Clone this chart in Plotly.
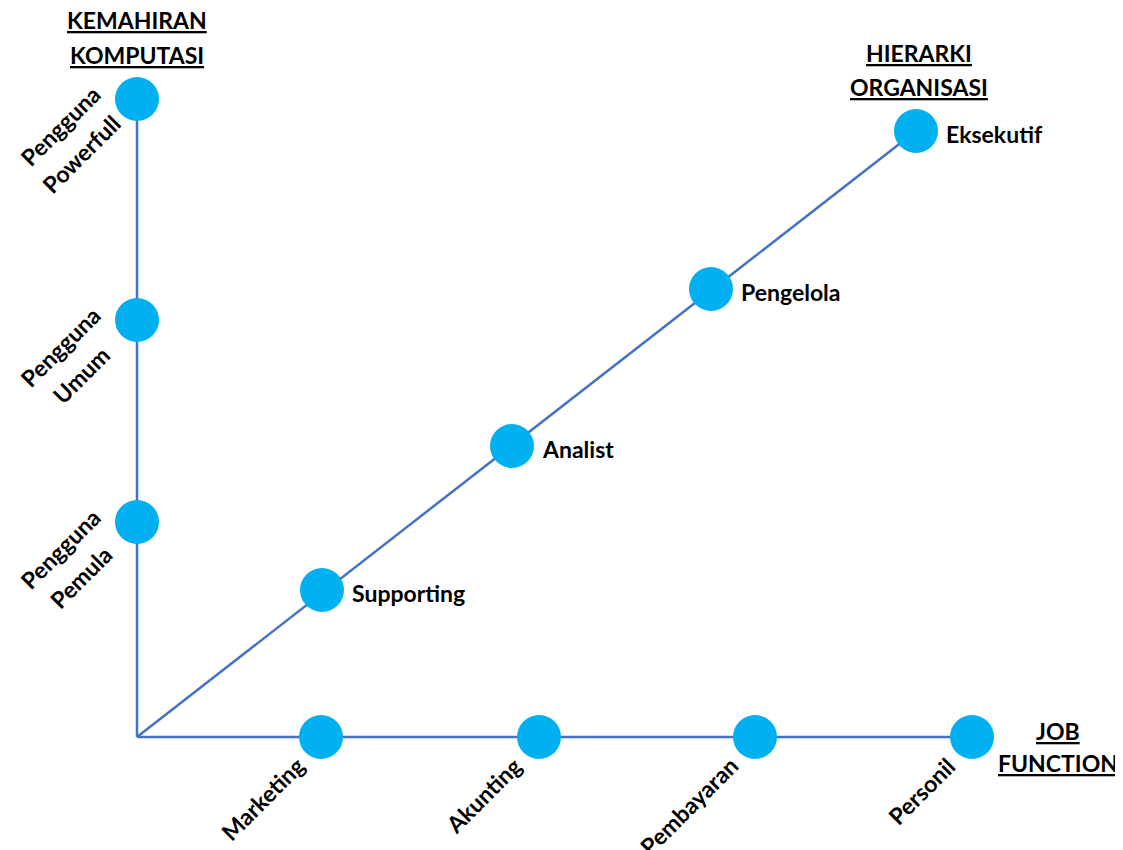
import plotly.graph_objects as go

# ---- data (positions along each dimension) ----
job_functions = ["Marketing", "Akunting", "Pembayaran", "Personil"]
job_pos = [184, 402, 618, 835]

skill_levels = ["Pengguna<br>Pemula", "Pengguna<br>Umum", "Pengguna<br>Powerfull"]
skill_pos = [215, 417, 638]

hier_levels = ["Supporting", "Analist", "Pengelola", "Eksekutif"]
hier_x = [185, 375, 574, 779]
hier_y = [147, 291, 448, 606]

axis_titles = {
    "skill": ["KEMAHIRAN", "KOMPUTASI"],
    "hier": ["HIERARKI", "ORGANISASI"],
    "job": ["JOB", "FUNCTION"],
}

# ---- style ----
LINE_COLOR = "#4472C4"
DOT_COLOR = "#00B0F0"
FONT = "Lato, Carlito, 'Open Sans', sans-serif"
FS = 23
DOT = 44

fig = go.Figure()

# axis lines
fig.add_trace(go.Scatter(x=[0, 0], y=[0, skill_pos[-1]], mode="lines",
                         line=dict(color=LINE_COLOR, width=2.5), hoverinfo="skip"))
fig.add_trace(go.Scatter(x=[0, job_pos[-1]], y=[0, 0], mode="lines",
                         line=dict(color=LINE_COLOR, width=2.5), hoverinfo="skip"))
fig.add_trace(go.Scatter(x=[0, hier_x[-1]], y=[0, hier_y[-1]], mode="lines",
                         line=dict(color=LINE_COLOR, width=2.5), hoverinfo="skip"))

# dots
marker = dict(color=DOT_COLOR, size=DOT, line=dict(width=0))
fig.add_trace(go.Scatter(x=[0] * len(skill_pos), y=skill_pos, mode="markers", marker=marker,
                         text=skill_levels, hoverinfo="text"))
fig.add_trace(go.Scatter(x=job_pos, y=[0] * len(job_pos), mode="markers", marker=marker,
                         text=job_functions, hoverinfo="text"))
fig.add_trace(go.Scatter(x=hier_x, y=hier_y, mode="markers", marker=marker,
                         text=hier_levels, hoverinfo="text"))

ann = []
font = dict(family=FONT, size=FS, color="black")

# job function labels (rotated, ending near the dot)
for name, p in zip(job_functions, job_pos):
    ann.append(dict(x=p, y=0, text="<b>%s</b>" % name, showarrow=False, textangle=-45,
                    xanchor="right", yanchor="top", xshift=-9, yshift=-12, font=font))

# skill labels (two rotated lines, left of the dot)
for name, p in zip(skill_levels, skill_pos):
    lines = name.split("<br>")
    offs = [(-77, -27), (-56, -55)]
    for ln, (dx, dy) in zip(lines, offs):
        ann.append(dict(x=0, y=p, text="<b>%s</b>" % ln, showarrow=False, textangle=-45,
                        xanchor="center", yanchor="middle", xshift=dx, yshift=dy, font=font))

# hierarchy labels
for name, x, y in zip(hier_levels, hier_x, hier_y):
    ann.append(dict(x=x, y=y, text="<b>%s</b>" % name, showarrow=False,
                    xanchor="left", yanchor="middle", xshift=28, yshift=-3, font=font))

# axis titles (underlined)
def title(lines, x, y, dx, dys):
    for ln, dy in zip(lines, dys):
        ann.append(dict(x=x, y=y, text="<b><u>%s</u></b>" % ln, showarrow=False,
                        xanchor="center", yanchor="middle", xshift=dx, yshift=dy, font=font))

title(axis_titles["skill"], 0, skill_pos[-1], 0, [79, 44])
title(axis_titles["hier"], hier_x[-1], hier_y[-1], 3, [78, 44])
title(axis_titles["job"], job_pos[-1], 0, 86, [6, -26])

# the page body has an 8px margin, so the figure is 8px smaller and axes shifted
fig.update_layout(
    width=1115, height=842,
    margin=dict(l=0, r=0, t=0, b=0),
    paper_bgcolor="white", plot_bgcolor="white",
    showlegend=False,
    annotations=ann,
    xaxis=dict(range=[-129, 986], visible=False, fixedrange=True),
    yaxis=dict(range=[-113, 729], visible=False, fixedrange=True),
)

fig.write_html("out.html")
